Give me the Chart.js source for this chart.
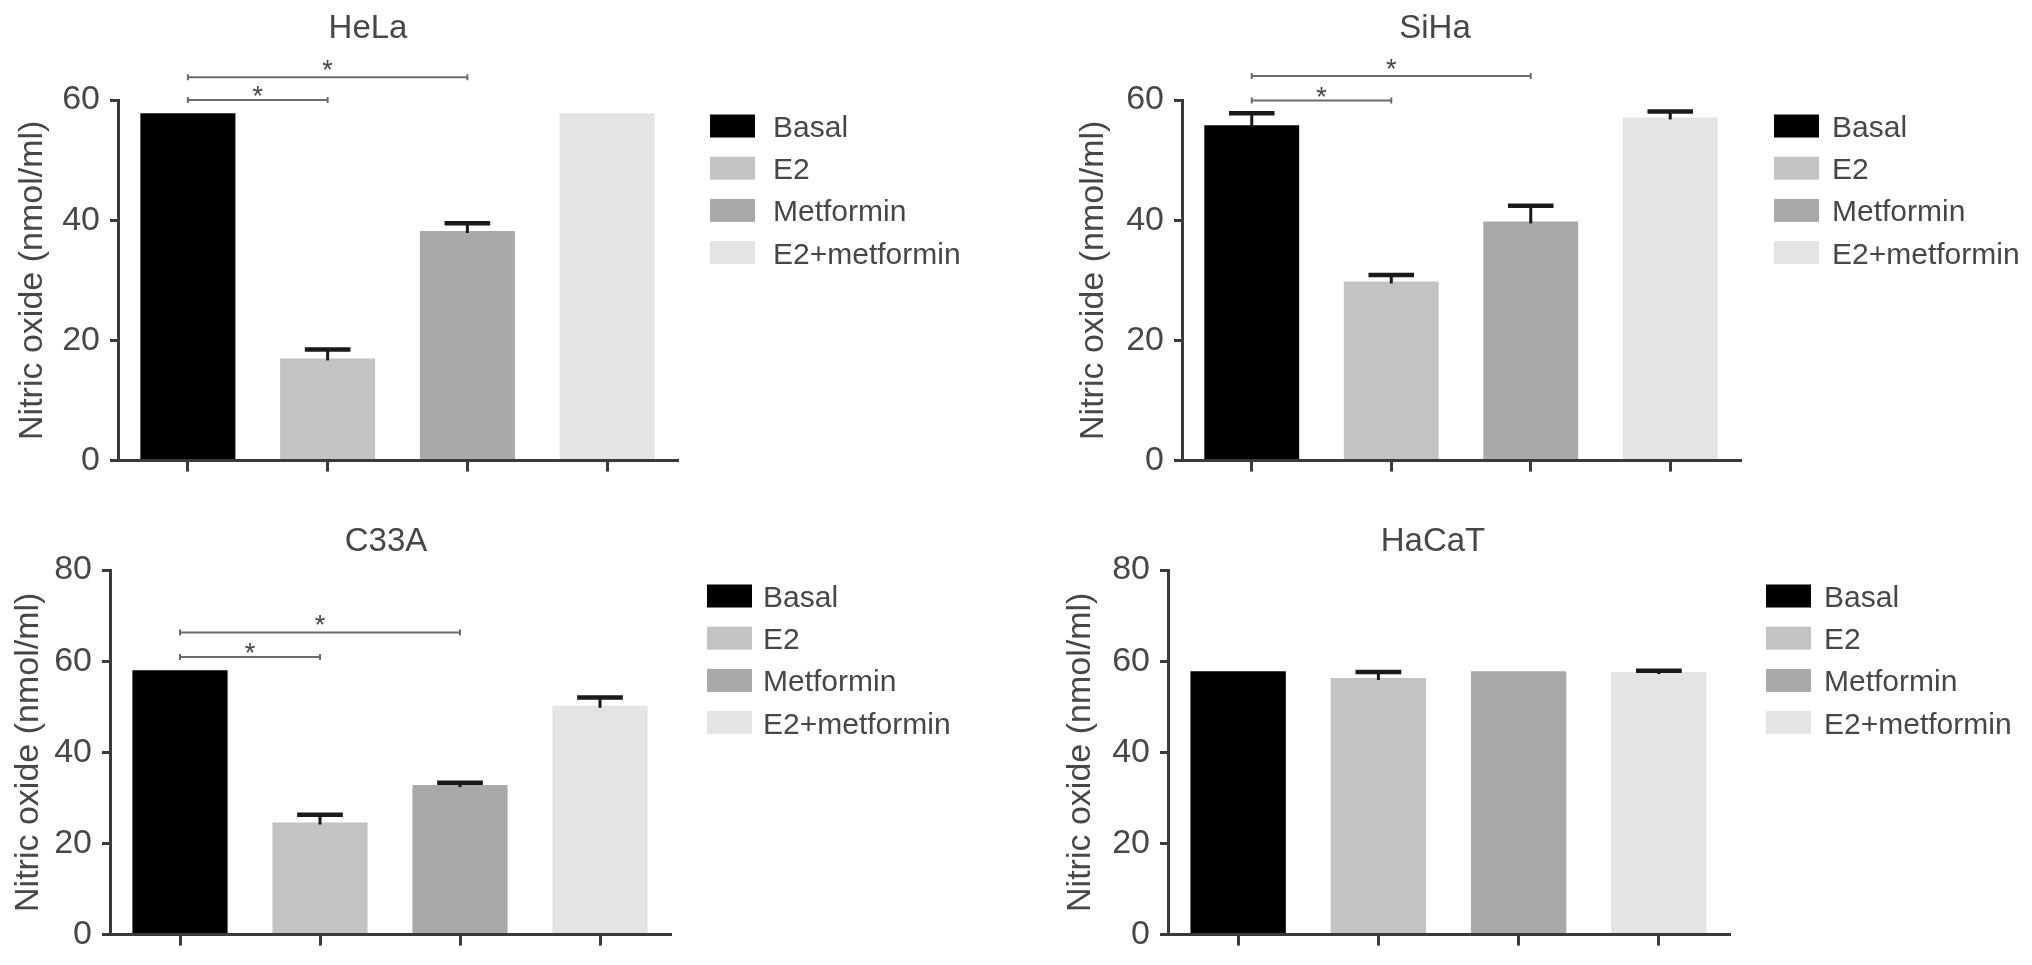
<!DOCTYPE html>
<html>
<head>
<meta charset="utf-8">
<title>Nitric oxide levels</title>
<script src="https://cdn.jsdelivr.net/npm/chart.js@4.4.1/dist/chart.umd.min.js"></script>
<style>
    html, body { margin: 0; padding: 0; background: #fff; }
    body { width: 2032px; height: 965px; position: relative; overflow: hidden; }
    canvas { position: absolute; }
</style>
</head>
<body>
<canvas id="hela"></canvas>
<canvas id="siha"></canvas>
<canvas id="c33a"></canvas>
<canvas id="hacat"></canvas>
<script>
// Treatment groups (x categories and legend entries)
const categories = ['Basal', 'E2', 'Metformin', 'E2+metformin'];
const barColors = ['#000000', '#c3c3c3', '#a9a9a9', '#e4e4e4'];
const yLabel = 'Nitric oxide (nmol/ml)';

// Mean and error (upper bar only) per cell line
const helaValues = [57.8, 17.0, 38.2, 57.8];
const helaErrors = [0, 1.5, 1.3, 0];
const sihaValues = [55.8, 29.8, 39.8, 57.1];
const sihaErrors = [2.0, 1.1, 2.6, 1.0];
const c33aValues = [58.0, 24.6, 32.8, 50.2];
const c33aErrors = [0, 1.7, 0.5, 1.8];
const hacatValues = [57.8, 56.3, 57.8, 57.6];
const hacatErrors = [0, 1.3, 0, 0.3];

// Significance brackets: compared groups and bracket height (y value)
const sigPairs = [[0, 1], [0, 2]];
const helaSigLevels = [60.0, 63.8];
const sihaSigLevels = [59.9, 64.0];
const c33aSigLevels = [60.9, 66.3];
const hacatSigLevels = [];

const fontFamily = "'Liberation Sans', Arial, Helvetica, sans-serif";
const textColor = '#474747';
const axisColor = '#3a3a3a';

// Draws error bars, significance brackets, panel title and legend
const panelExtras = {
    id: 'panelExtras',
    afterDatasetsDraw(chart, args, opts) {
        const ctx = chart.ctx;
        const x = chart.scales.x;
        const y = chart.scales.y;
        const values = chart.data.datasets[0].data;

        ctx.save();
        // Error bars
        ctx.strokeStyle = '#1a1a1a';
        chart.getDatasetMeta(0).data.forEach((bar, i) => {
            const err = opts.errors[i];
            if (!err) return;
            const yBar = y.getPixelForValue(values[i]);
            const yTop = y.getPixelForValue(values[i] + err);
            const half = bar.width * 0.24;
            ctx.lineWidth = 3;
            ctx.beginPath();
            ctx.moveTo(bar.x, yBar + 2);
            ctx.lineTo(bar.x, yTop);
            ctx.stroke();
            ctx.lineWidth = 4.5;
            ctx.beginPath();
            ctx.moveTo(bar.x - half, yTop);
            ctx.lineTo(bar.x + half, yTop);
            ctx.stroke();
        });

        // Significance brackets
        opts.sigLevels.forEach((level, k) => {
            const pair = sigPairs[k];
            const x1 = x.getPixelForValue(pair[0]);
            const x2 = x.getPixelForValue(pair[1]);
            const yy = y.getPixelForValue(level);
            ctx.strokeStyle = '#6b6b6b';
            ctx.lineWidth = 2;
            ctx.beginPath();
            ctx.moveTo(x1, yy);
            ctx.lineTo(x2, yy);
            ctx.moveTo(x1, yy - 3);
            ctx.lineTo(x1, yy + 3);
            ctx.moveTo(x2, yy - 3);
            ctx.lineTo(x2, yy + 3);
            ctx.stroke();
            ctx.fillStyle = textColor;
            ctx.font = '27px ' + fontFamily;
            ctx.textAlign = 'center';
            ctx.textBaseline = 'alphabetic';
            ctx.fillText('*', (x1 + x2) / 2, yy + (k === 0 ? 5 : 2));
        });
        ctx.restore();
    },
    afterDraw(chart, args, opts) {
        const ctx = chart.ctx;
        const area = chart.chartArea;
        ctx.save();

        // Panel title
        ctx.fillStyle = textColor;
        ctx.font = '33px ' + fontFamily;
        ctx.textAlign = 'center';
        ctx.textBaseline = 'alphabetic';
        ctx.fillText(opts.title, area.left + opts.titleDx, area.top + opts.titleDy);

        // Legend
        ctx.font = '30px ' + fontFamily;
        ctx.textAlign = 'left';
        categories.forEach((label, i) => {
            const bx = area.right + opts.legendGap;
            const cy = area.top + 26 + i * 42.2;
            ctx.fillStyle = barColors[i];
            ctx.fillRect(bx, cy - 11.5, 45, 23);
            ctx.fillStyle = textColor;
            ctx.fillText(label, bx + opts.textGap, cy + 11);
        });
        ctx.restore();
    }
};

function makePanel(id, title, values, errors, sigLevels, yMax, p) {
    const canvas = document.getElementById(id);
    canvas.width = p.w;
    canvas.height = p.h;
    canvas.style.left = p.left + 'px';
    canvas.style.top = p.top + 'px';

    return new Chart(canvas.getContext('2d'), {
        type: 'bar',
        data: {
            labels: categories,
            datasets: [{
                data: values,
                backgroundColor: barColors,
                borderWidth: 0,
                barPercentage: 0.68,
                categoryPercentage: 1
            }]
        },
        plugins: [panelExtras],
        options: {
            responsive: false,
            animation: false,
            layout: {
                padding: { left: 0, top: p.padTop, right: p.padRight, bottom: 0 }
            },
            plugins: {
                legend: { display: false },
                tooltip: { enabled: false },
                panelExtras: {
                    title: title,
                    errors: errors,
                    sigLevels: sigLevels,
                    titleDx: p.titleDx,
                    titleDy: p.titleDy,
                    legendGap: p.legendGap,
                    textGap: p.textGap
                }
            },
            scales: {
                x: {
                    offset: true,
                    z: 1,
                    ticks: { display: false },
                    grid: {
                        offset: false,
                        drawOnChartArea: false,
                        drawTicks: true,
                        tickLength: 11,
                        lineWidth: 3,
                        color: axisColor
                    },
                    border: { display: true, width: 3, color: axisColor },
                    afterFit: function(scale) { scale.height = p.xAxisH; }
                },
                y: {
                    min: 0,
                    max: yMax,
                    z: 1,
                    ticks: {
                        stepSize: 20,
                        padding: 10,
                        color: textColor,
                        font: { family: fontFamily, size: 34 }
                    },
                    grid: {
                        drawOnChartArea: false,
                        drawTicks: true,
                        tickLength: 8,
                        lineWidth: 3,
                        color: axisColor
                    },
                    border: { display: true, width: 3, color: axisColor },
                    title: {
                        display: true,
                        text: yLabel,
                        color: textColor,
                        font: { family: fontFamily, size: 34 },
                        padding: { top: p.yTitlePad, bottom: 0 }
                    },
                    afterFit: function(scale) { scale.width = p.axisW; }
                }
            }
        }
    });
}

makePanel('hela', 'HeLa', helaValues, helaErrors, helaSigLevels, 60, {
    left: 0, top: 0, w: 1030, h: 491, axisW: 118, xAxisH: 20, padTop: 100, padRight: 353,
    yTitlePad: 12, titleDx: 250, titleDy: -62, legendGap: 33, textGap: 63
});
makePanel('siha', 'SiHa', sihaValues, sihaErrors, sihaSigLevels, 60, {
    left: 1064, top: 0, w: 968, h: 491, axisW: 118, xAxisH: 20, padTop: 100, padRight: 292,
    yTitlePad: 9, titleDx: 253, titleDy: -62, legendGap: 34, textGap: 58
});
makePanel('c33a', 'C33A', c33aValues, c33aErrors, c33aSigLevels, 80, {
    left: 0, top: 491, w: 1030, h: 474, axisW: 110, xAxisH: 27, padTop: 79, padRight: 360,
    yTitlePad: 8, titleDx: 276, titleDy: -19, legendGap: 37, textGap: 56
});
makePanel('hacat', 'HaCaT', hacatValues, hacatErrors, hacatSigLevels, 80, {
    left: 1058, top: 491, w: 974, h: 474, axisW: 110, xAxisH: 27, padTop: 79, padRight: 303,
    yTitlePad: 2, titleDx: 265, titleDy: -19, legendGap: 37, textGap: 58
});
</script>
</body>
</html>
